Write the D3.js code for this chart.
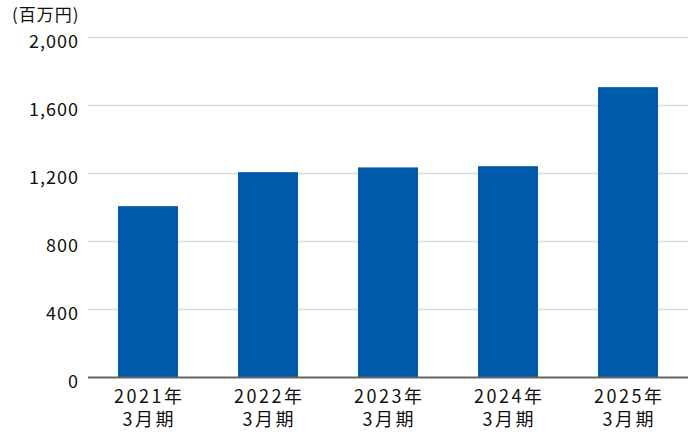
<!DOCTYPE html>
<html><head><meta charset="utf-8">
<script src="https://cdn.jsdelivr.net/npm/d3@7"></script>
<style>
html,body{margin:0;padding:0;background:#fff;}
svg{display:block;font-family:"Noto Sans CJK JP","Noto Sans",sans-serif;}
</style></head>
<body><svg id="c" width="690" height="440"></svg>
<script>
const years = ["2021年","2022年","2023年","2024年","2025年"];
const periods = ["3月期","3月期","3月期","3月期","3月期"];
const values = [1008, 1208, 1236, 1243, 1708];
const yTicks = [0, 400, 800, 1200, 1600, 2000];
const unitLabel = "(百万円)";

const svg = d3.select("#c");
const mLeft = 88, mRight = 688, mTop = 37.5, mBottom = 377.5;
const x = d3.scaleBand().domain(years).range([mLeft, mRight]).paddingInner(0.5).paddingOuter(0.25);
const y = d3.scaleLinear().domain([0, 2000]).range([mBottom, mTop]);

// gridlines
svg.append("g").selectAll("line").data(yTicks.filter(d => d > 0)).join("line")
  .attr("x1", mLeft).attr("x2", mRight)
  .attr("y1", d => y(d)).attr("y2", d => y(d))
  .attr("stroke", "#dadada").attr("stroke-width", 1.5);

// y labels
svg.append("g").selectAll("text").data(yTicks).join("text")
  .attr("x", 79).attr("y", d => y(d) + 10)
  .attr("text-anchor", "end").attr("font-size", 18).attr("letter-spacing", 1).attr("fill", "#111")
  .text(d => d3.format(",")(d));

// bars
svg.append("g").selectAll("rect").data(values).join("rect")
  .attr("x", (d, i) => x(years[i])).attr("width", x.bandwidth())
  .attr("y", d => y(d)).attr("height", d => y(0) - y(d))
  .attr("fill", "#005bab");

// axis baseline
svg.append("line").attr("x1", mLeft).attr("x2", mRight)
  .attr("y1", y(0)).attr("y2", y(0)).attr("stroke", "#666").attr("stroke-width", 2);

// x labels
const xl = svg.append("g").selectAll("text").data(years).join("text")
  .attr("text-anchor", "middle").attr("font-size", 18).attr("letter-spacing", 2.5).attr("fill", "#111");
xl.append("tspan").attr("x", d => x(d) + x.bandwidth()/2 + 1.25).attr("y", 403).text(d => d);
xl.append("tspan").attr("x", d => x(d) + x.bandwidth()/2 + 1.25).attr("y", 426).text((d, i) => periods[i]);

svg.append("text").attr("x", 12).attr("y", 21).attr("font-size", 17).attr("letter-spacing", 1).attr("fill", "#111").text(unitLabel);
</script></body></html>
